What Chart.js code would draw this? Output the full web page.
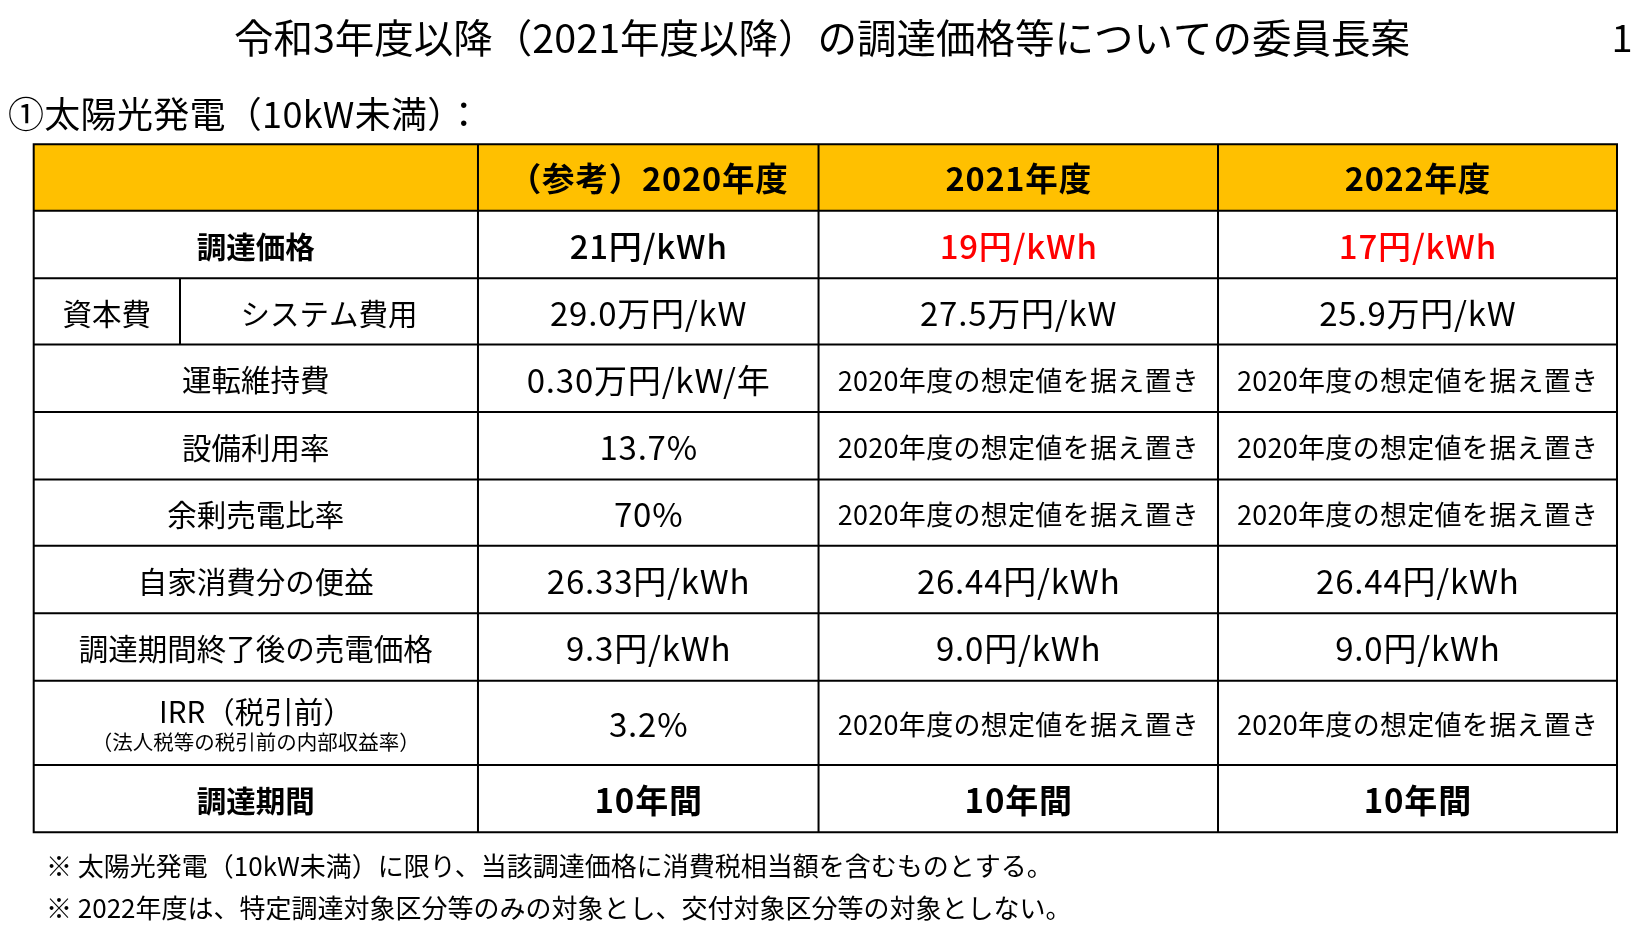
<!DOCTYPE html>
<html><head><meta charset="utf-8">
<script src="https://cdn.jsdelivr.net/npm/chart.js@4.4.1/dist/chart.umd.min.js"></script>
<style>html,body{margin:0;padding:0;background:#fff;overflow:hidden}canvas{display:block}</style>
</head><body>
<canvas id="c" width="1652" height="948"></canvas>
<script>
// ---- content ----
const pageTitle = '令和3年度以降（2021年度以降）の調達価格等についての委員長案';
const pageNumber = '1';
const sectionTitle = '①太陽光発電（10kW未満）：';
const columnHeaders = ['（参考）2020年度', '2021年度', '2022年度'];
const rowLabels = ['調達価格', '資本費', '運転維持費', '設備利用率', '余剰売電比率', '自家消費分の便益', '調達期間終了後の売電価格', 'IRR（税引前）', '調達期間'];
const rowSubLabels = ['', 'システム費用', '', '', '', '', '', '（法人税等の税引前の内部収益率）', ''];
const KEEP = '2020年度の想定値を据え置き';
const values2020 = ['21円/kWh', '29.0万円/kW', '0.30万円/kW/年', '13.7%', '70%', '26.33円/kWh', '9.3円/kWh', '3.2%', '10年間'];
const values2021 = ['19円/kWh', '27.5万円/kW', KEEP, KEEP, KEEP, '26.44円/kWh', '9.0円/kWh', KEEP, '10年間'];
const values2022 = ['17円/kWh', '25.9万円/kW', KEEP, KEEP, KEEP, '26.44円/kWh', '9.0円/kWh', KEEP, '10年間'];
const footnotes = [
  '※ 太陽光発電（10kW未満）に限り、当該調達価格に消費税相当額を含むものとする。',
  '※ 2022年度は、特定調達対象区分等のみの対象とし、交付対象区分等の対象としない。'
];

// ---- layout / style ----
const FONT = '"Noto Sans CJK JP", "Noto Sans", sans-serif';
const colEdges = [0, 0.0924, 0.2806, 0.4957, 0.7480, 1];
const rowWeights = [0.99, 1.005, 0.99, 1.005, 1.005, 0.99, 1.005, 1.005, 1.256, 1.005];
const totalUnits = rowWeights.reduce((a, b) => a + b, 0);
const headerFill = '#FFC000';
const redText = '#FF0000';

function txt(ctx, s, x, y, size, weight, color, align, spacing) {
  ctx.save();
  ctx.font = `${weight} ${size}px ${FONT}`;
  ctx.fillStyle = color || '#000';
  ctx.textBaseline = 'middle';
  if (spacing) { try { ctx.letterSpacing = spacing + 'px'; } catch (e) {} }
  const w = ctx.measureText(s).width;
  ctx.textAlign = 'left';
  let sx = x;
  if ((align || 'center') === 'center') sx = x - w / 2 + (spacing ? spacing / 2 : 0);
  ctx.fillText(s, sx, y);
  ctx.restore();
}

const tablePlugin = {
  id: 'tablePlugin',
  afterDraw(chart) {
    const { ctx, scales: { x, y } } = chart;
    const X = v => x.getPixelForValue(v);
    const bounds = [0];
    rowWeights.forEach(w => bounds.push(bounds[bounds.length - 1] + w));
    const Y = v => y.getPixelForValue(v);
    const mid = i => (Y(bounds[i]) + Y(bounds[i + 1])) / 2;

    // page title etc.
    txt(ctx, pageTitle, 822, 38, 39.5, 400, '#000');
    txt(ctx, pageNumber, 1622, 38, 38, 400, '#000');
    txt(ctx, sectionTitle, 8, 114, 36, 400, '#000', 'left', 0.3);
    footnotes.forEach((f, i) => txt(ctx, f, 46, 866 + i * 42, 26, 400, '#000', 'left'));

    // header fill
    ctx.fillStyle = headerFill;
    ctx.fillRect(X(0), Y(bounds[0]), X(1) - X(0), Y(bounds[1]) - Y(bounds[0]));

    // header text
    columnHeaders.forEach((h, c) => {
      txt(ctx, h, (X(colEdges[c + 2]) + X(colEdges[c + 3])) / 2, mid(0) + 1, 32.5, 700, '#000', 'center', 0.8);
    });

    const cols = [values2020, values2021, values2022];
    rowLabels.forEach((lab, r) => {
      const ri = r + 1;
      const cy = mid(ri) + 2;
      const bold = (r === 0 || r === rowLabels.length - 1) ? 700 : 400;
      if (r === 1) {
        txt(ctx, lab, (X(colEdges[0]) + X(colEdges[1])) / 2, cy, 29.5, 400, '#000');
        txt(ctx, rowSubLabels[r], (X(colEdges[1]) + X(colEdges[2])) / 2, cy, 29.5, 400, '#000');
      } else if (rowSubLabels[r]) {
        const lx = (X(colEdges[0]) + X(colEdges[2])) / 2;
        txt(ctx, lab, lx, cy - 13, 29.5, 400, '#000');
        txt(ctx, rowSubLabels[r], lx, cy + 17, 20.5, 400, '#000');
      } else {
        txt(ctx, lab, (X(colEdges[0]) + X(colEdges[2])) / 2, cy, 29.5, bold, '#000');
      }
      cols.forEach((vals, c) => {
        const v = vals[r];
        const keep = v === KEEP;
        const size = keep ? 27 : 33;
        const color = (r === 0 && c > 0) ? redText : '#000';
        const w = r === 0 ? 500 : (r === rowLabels.length - 1 ? 700 : 400);
        txt(ctx, v, (X(colEdges[c + 2]) + X(colEdges[c + 3])) / 2, cy, size, w, color, 'center', keep ? 0.3 : 0.8);
      });
    });

    // grid lines
    ctx.save();
    ctx.strokeStyle = '#000';
    ctx.lineWidth = 2;
    ctx.beginPath();
    bounds.forEach(b => { ctx.moveTo(X(0) - 1, Y(b)); ctx.lineTo(X(1) + 1, Y(b)); });
    [0, 2, 3, 4, 5].forEach(ci => { ctx.moveTo(X(colEdges[ci]), Y(0)); ctx.lineTo(X(colEdges[ci]), Y(totalUnits)); });
    ctx.moveTo(X(colEdges[1]), Y(bounds[2])); ctx.lineTo(X(colEdges[1]), Y(bounds[3]));
    ctx.stroke();
    ctx.restore();
  }
};

new Chart(document.getElementById('c'), {
  type: 'scatter',
  data: { datasets: [] },
  options: {
    responsive: false,
    animation: false,
    events: [],
    layout: { padding: { left: 33.7, top: 144.3, right: 35, bottom: 115.7 } },
    scales: {
      x: { type: 'linear', min: 0, max: 1, display: false },
      y: { type: 'linear', min: 0, max: totalUnits, reverse: true, display: false }
    },
    plugins: { legend: { display: false }, tooltip: { enabled: false }, title: { display: false } }
  },
  plugins: [tablePlugin]
});
</script>
</body></html>
